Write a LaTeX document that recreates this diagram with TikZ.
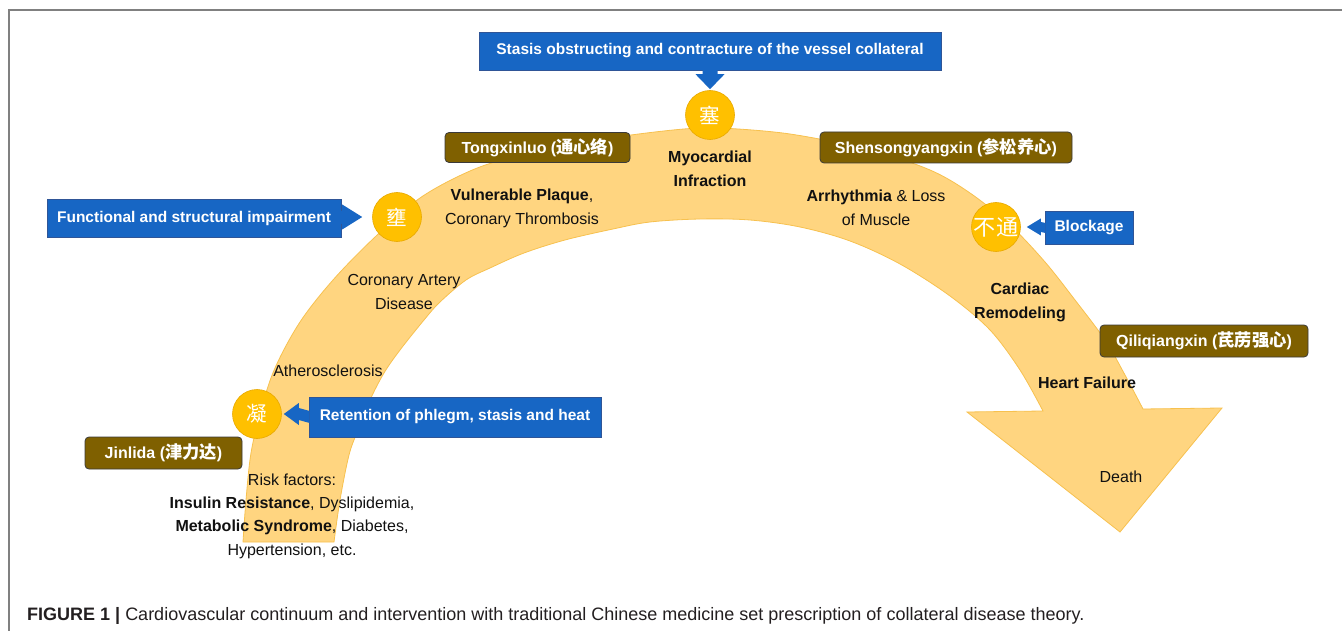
\documentclass[tikz,border=0pt]{standalone}
\usepackage{fontspec}
\setmainfont{Liberation Sans}
\newfontfamily\cjk{Noto Sans CJK SC}[Scale=1.08]
\usetikzlibrary{calc}
\definecolor{bandc}{HTML}{FFD580}
\definecolor{bandedge}{HTML}{F7C14F}
\definecolor{circc}{HTML}{FFC000}
\definecolor{circedge}{HTML}{E8A900}
\definecolor{bluec}{HTML}{1766C4}
\definecolor{bluedge}{HTML}{2F5597}
\definecolor{brownc}{HTML}{7F6000}
\definecolor{brownedge}{HTML}{3A3A3A}
\definecolor{txt}{HTML}{111111}
\definecolor{framec}{HTML}{808080}
\definecolor{capc}{HTML}{231F20}
\begin{document}
\begin{tikzpicture}[x=1pt,y=-1pt,
 lbl/.style={text=txt, align=center, inner sep=0, font=\fontsize{16}{24}\selectfont},
 boldlbl/.style={lbl, font=\bfseries\fontsize{16}{24}\selectfont},
 bluebox/.style={fill=bluec, draw=bluedge, line width=0.6, text=white, inner sep=0, font=\bfseries\fontsize{15.5}{18}\selectfont},
 blueshape/.style={fill=bluec},
 brownbox/.style={fill=brownc, draw=brownedge, line width=0.8, rounded corners=4, text=white, inner sep=0, font=\bfseries\fontsize{16}{18}\selectfont},
 circ/.style={circle, fill=circc, draw=circedge, line width=0.6, minimum size=49, inner sep=0, text=white, font=\cjk\fontsize{19}{20}\selectfont}]
\useasboundingbox (0,0) rectangle (1342,631);
% frame
\draw[framec, line width=1.5] (9,631) -- (9,10) -- (1342,10);
% band
\fill[bandc, draw=bandedge, line width=0.8]
  plot[smooth, tension=0.55] coordinates {(243,542) (246,500) (251,453) (261,410) (275,368) (300,322) (333,280) (374,238) (420,198) (470,171) (516,156) (580,143) (631,135) (684,129) (720,128) (790,134) (870,150) (930,170) (970,193) (1010,225) (1045,262) (1075,300) (1105,340) (1125,375) (1143,409)}
  -- (1222,408) -- (1120,532) -- (967,412) --
  plot[smooth, tension=0.55] coordinates {(1043,411) (1020,370) (990,330) (950,296) (900,264) (850,241) (800,227) (750,220) (700,219) (650,222) (613,229) (565,240) (524,253) (490,268) (466,280) (440,302) (424,320) (400,350) (384,373) (370,400) (358,430) (349,455) (340,500) (334,542)}
  -- cycle;
% circles
\node[circ] (c1) at (710,115) {塞};
\node[circ] (c2) at (397,217) {壅};
\node[circ] (c3) at (257,414) {凝};
\node[circ, font=\cjk\fontsize{20.5}{20}\selectfont] (c4) at (996,227) {不通};
% blue boxes
\node[bluebox, minimum width=462, minimum height=38] (tb) at (710,51) {Stasis obstructing and contracture of the vessel collateral};
\node[bluebox, minimum width=294, minimum height=38] (fb) at (194,218) {Functional and structural impairment};
\node[bluebox, minimum width=292, minimum height=40] (rb) at (455,417) {Retention of phlegm, stasis and heat};
\node[bluebox, minimum width=88, minimum height=33] (bb) at (1089,228) {Blockage};
% blue arrows
\coordinate (t1) at ($(c1.north)+(0,-1)$);
\fill[blueshape] ($(tb.south)+(-7.5,-1)$) -- ($(t1)+(-7.5,-15)$) -- ($(t1)+(-14.5,-15)$) -- (t1) -- ($(t1)+(14.5,-15)$) -- ($(t1)+(7.5,-15)$) -- ($(tb.south)+(7.5,-1)$) -- cycle;
\coordinate (t2) at ($(c2.west)+(-10,0)$);
\fill[blueshape] ($(fb.east)+(-1,-6.5)$) -- ($(t2)+(-20,-6.5)$) -- ($(t2)+(-20,-12.5)$) -- (t2) -- ($(t2)+(-20,12.5)$) -- ($(t2)+(-20,6.5)$) -- ($(fb.east)+(-1,6.5)$) -- cycle;
\coordinate (t3) at ($(c3.east)+(2,0)$);
\fill[blueshape] ($(rb.west)+(1,-6)$) -- ($(t3)+(15,-6)$) -- ($(t3)+(15,-11)$) -- (t3) -- ($(t3)+(15,11)$) -- ($(t3)+(15,6)$) -- ($(rb.west)+(1,6)$) -- cycle;
\coordinate (t4) at ($(c4.east)+(6,0)$);
\fill[blueshape] ($(bb.west)+(1,-5)$) -- ($(t4)+(14,-5)$) -- ($(t4)+(14,-8.5)$) -- (t4) -- ($(t4)+(14,8.5)$) -- ($(t4)+(14,5)$) -- ($(bb.west)+(1,5)$) -- cycle;
% brown boxes
\node[brownbox, minimum width=185, minimum height=30] (k1) at (537.5,147.5) {Tongxinluo ({\cjk 通心络})};
\node[brownbox, minimum width=252, minimum height=31] (k2) at (946,147.5) {Shensongyangxin ({\cjk 参松养心})};
\node[brownbox, minimum width=208, minimum height=32] (k3) at (1204,341) {Qiliqiangxin ({\cjk 芪苈强心})};
\node[brownbox, minimum width=157, minimum height=32] (k4) at (163.5,453) {Jinlida ({\cjk 津力达})};
% labels
\node[boldlbl] (mi) at (710,169) {Myocardial\\Infraction};
\node[lbl] (vp) at (522,208) {\textbf{Vulnerable Plaque},\\Coronary Thrombosis};
\node[lbl] (ar) at (876,208) {\textbf{Arrhythmia} \& Loss\\of Muscle};
\node[lbl] (cad) at (404,291.5) {Coronary Artery\\Disease};
\node[boldlbl] (cr) at (1020,302) {Cardiac\\Remodeling};
\node[lbl] (ath) at (328,371) {Atherosclerosis};
\node[boldlbl] (hf) at (1087,383) {Heart Failure};
\node[lbl] (de) at (1121,477) {Death};
\node[lbl, font=\fontsize{16}{23.3}\selectfont] (rf) at (292,516) {Risk factors:\\\textbf{Insulin Resistance}, Dyslipidemia,\\\textbf{Metabolic Syndrome}, Diabetes,\\Hypertension, etc.};
% caption
\node[anchor=west, inner sep=0, font=\fontsize{18}{20}\selectfont, text=capc] (cap) at (27,616) {\textbf{FIGURE 1 |} Cardiovascular continuum and intervention with traditional Chinese medicine set prescription of collateral disease theory.};
\end{tikzpicture}
\end{document}
